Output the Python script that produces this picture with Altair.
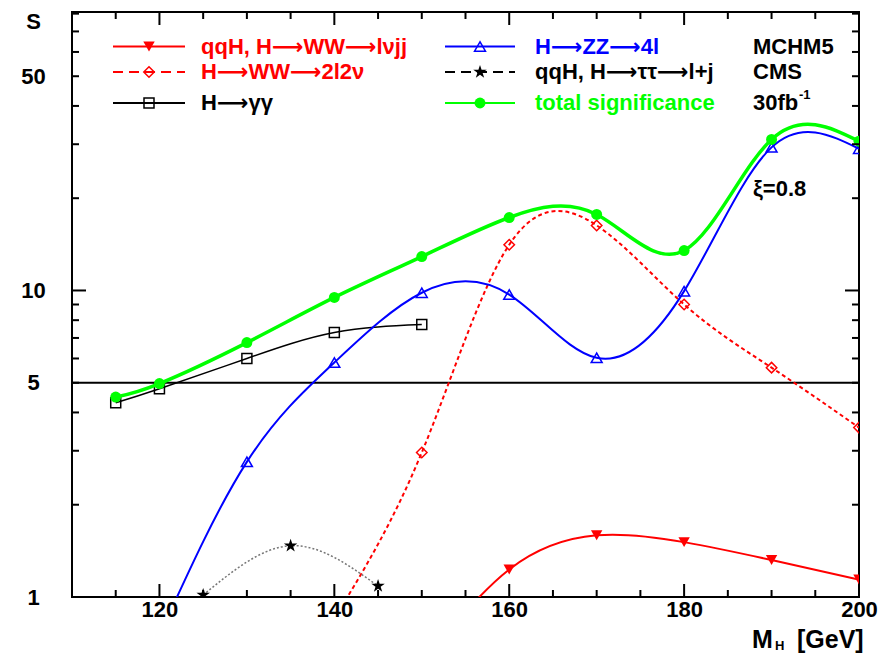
import altair as alt
import pandas as pd

# ---------------- data ----------------
mh_lvjj = [150, 160, 170, 180, 190, 200]
s_lvjj = [0.60, 1.23, 1.59, 1.51, 1.32, 1.14]

mh_2l2v = [140, 150, 160, 170, 180, 190, 200]
s_2l2v = [0.85, 2.96, 14.1, 16.3, 9.0, 5.6, 3.57]

mh_gg = [115, 120, 130, 140, 150]
s_gg = [4.30, 4.78, 6.0, 7.29, 7.74]

mh_zz = [120, 130, 140, 150, 160, 170, 180, 190, 200]
s_zz = [0.75, 2.76, 5.82, 9.83, 9.70, 6.03, 9.95, 29.3, 29.0]

mh_tt = [125, 135, 145]
s_tt = [1.015, 1.47, 1.086]

mh_tot = [115, 120, 130, 140, 150, 160, 170, 180, 190, 200]
s_tot = [4.49, 4.97, 6.76, 9.49, 12.9, 17.3, 17.7, 13.5, 31.1, 30.7]

threshold = [5]

x_labels = [120, 140, 160, 180, 200]
y_labels = [1, 5, 10, 50]
x_ticks_major = [120, 140, 160, 180]
x_ticks_minor = [115, 125, 130, 135, 145, 150, 155, 165, 170, 175, 185, 190, 195]
y_ticks_major = [10]
y_ticks_minor = [2, 3, 4, 5, 6, 7, 8, 9, 20, 30, 40, 50, 60, 70, 80]

ARW = "\u27f6"
legend_labels = ["qqH, H" + ARW + "WW" + ARW + "l\u03bdjj", "H" + ARW + "WW" + ARW + "2l2\u03bd",
                 "H" + ARW + "\u03b3\u03b3", "H" + ARW + "ZZ" + ARW + "4l",
                 "qqH, H" + ARW + "\u03c4\u03c4" + ARW + "l+j", "total significance"]
info_labels = ["MCHM5", "CMS", "30fb"]

# ---------------- layout / style ----------------
FONT = "Liberation Sans, DejaVu Sans"
XMIN, XMAX = 110, 200
YMIN, YMAX = 1, 81
W, H = 787, 585

RED, BLUE, GREEN, BLACK = "#ff0000", "#0000ff", "#00ff00", "#000000"
STAR = ("M0,-1L0.2245,-0.309L0.951,-0.309L0.363,0.118L0.588,0.809L0,0.382"
        "L-0.588,0.809L-0.363,0.118L-0.951,-0.309L-0.2245,-0.309Z")

xs = alt.Scale(domain=[XMIN, XMAX], nice=False, zero=False)
ys = alt.Scale(type="log", domain=[YMIN, YMAX], nice=False)

x_axis = alt.Axis(values=x_labels, title=None, grid=False, domain=False, ticks=False, tickSize=0,
                  labelFont=FONT, labelFontSize=22, labelFontWeight="bold", labelColor=BLACK,
                  labelPadding=12, labelBaseline="middle", labelFlush=False)
y_axis = alt.Axis(values=y_labels, title="S", grid=False, domain=False, ticks=False, tickSize=0,
                  labelFont=FONT, labelFontSize=22, labelFontWeight="bold", labelColor=BLACK,
                  labelPadding=39, labelAlign="center", labelBaseline="middle", labelFlush=False,
                  titleAngle=0, titleX=-39, titleY=9, titleAlign="center", titleBaseline="middle",
                  titleFont=FONT, titleFontSize=22, titleFontWeight="bold", titleColor=BLACK)

X = alt.X("x:Q", scale=xs, axis=x_axis)
Y = alt.Y("y:Q", scale=ys, axis=y_axis)


def series(mh, s, color, width, shape, size, filled, dash=None, interp="natural", lcolor=None):
    df = pd.DataFrame({"x": mh, "y": s})
    kw = dict(color=lcolor or color, strokeWidth=width, interpolate=interp, clip=True)
    if dash:
        kw["strokeDash"] = dash
    line = alt.Chart(df).mark_line(**kw).encode(x=X, y=Y)
    pts = alt.Chart(df).mark_point(shape=shape, size=size, filled=filled, color=color,
                                   strokeWidth=1.5, opacity=1, clip=True).encode(x=X, y=Y)
    return [line, pts]


layers = []

# 5-sigma line
layers.append(alt.Chart(pd.DataFrame({"y": threshold})).mark_rule(color=BLACK, strokeWidth=2)
              .encode(y=Y))

layers += series(mh_lvjj, s_lvjj, RED, 2, "triangle-down", 130, True)
layers += series(mh_2l2v, s_2l2v, RED, 2, "diamond", 110, False, dash=[4, 3])
layers += series(mh_gg, s_gg, BLACK, 1.5, "square", 100, False)
layers += series(mh_zz, s_zz, BLUE, 2, "triangle-up", 120, False)
layers += series(mh_tt, s_tt, BLACK, 1.5, STAR, 200, True, dash=[2, 2], lcolor="#777777")
layers += series(mh_tot, s_tot, GREEN, 3.5, "circle", 120, True)

# ---------------- frame ticks (inward, as in ROOT) ----------------
def px2x(p):
    return XMIN + (p - 72) * (XMAX - XMIN) / W

def fy(px_len):
    return (YMAX / YMIN) ** (px_len / H)

dx_min, dx_maj = 7 * (XMAX - XMIN) / W, 14 * (XMAX - XMIN) / W
tick_rows = []
for v in y_ticks_minor + y_ticks_major:
    d = dx_maj if v in y_ticks_major else dx_min
    tick_rows.append({"x": XMIN, "x2": XMIN + d, "y": v, "y2": v})
    tick_rows.append({"x": XMAX - d, "x2": XMAX, "y": v, "y2": v})
for v in x_ticks_minor + x_ticks_major:
    f = fy(13) if v in x_ticks_major else fy(7)
    tick_rows.append({"x": v, "x2": v, "y": YMIN, "y2": YMIN * f})
    tick_rows.append({"x": v, "x2": v, "y": YMAX / f, "y2": YMAX})
ticks = alt.Chart(pd.DataFrame(tick_rows)).mark_rule(color=BLACK, strokeWidth=2).encode(
    x=X, x2="x2:Q", y=Y, y2="y2:Q")
layers.append(ticks)

# ---------------- legend ----------------
def px2y(p):
    return YMIN * (YMAX / YMIN) ** ((597 - p) / H)

rows_px = [46.5, 72, 103]
col_line = [(113, 185, 149, 201), (445, 515, 480, 535)]
leg_styles = [
    dict(color=RED, shape="triangle-down", size=130, filled=True),
    dict(color=RED, shape="diamond", size=110, filled=False, dash=[10, 6]),
    dict(color=BLACK, shape="square", size=100, filled=False),
    dict(color=BLUE, shape="triangle-up", size=120, filled=False),
    dict(color=BLACK, shape=STAR, size=200, filled=True, dash=[10, 6]),
    dict(color=GREEN, shape="circle", size=120, filled=True),
]
text_colors = [RED, RED, BLACK, BLUE, BLACK, GREEN]

for i, (lab, st) in enumerate(zip(legend_labels, leg_styles)):
    c = i // 3
    r = i % 3
    x1, x2, xm, xt = col_line[c]
    yv = px2y(rows_px[r])
    ldf = pd.DataFrame({"x": [px2x(x1)], "x2": [px2x(x2)], "y": [yv]})
    rkw = dict(color=st["color"], strokeWidth=2)
    if "dash" in st:
        rkw["strokeDash"] = st["dash"]
    layers.append(alt.Chart(ldf).mark_rule(**rkw).encode(x=X, x2="x2:Q", y=Y))
    mdf = pd.DataFrame({"x": [px2x(xm)], "y": [yv]})
    layers.append(alt.Chart(mdf).mark_point(shape=st["shape"], size=st["size"], filled=st["filled"],
                                             color=st["color"], strokeWidth=1.5, opacity=1)
                  .encode(x=X, y=Y))
    tdf = pd.DataFrame({"x": [px2x(xt)], "y": [yv], "t": [lab]})
    layers.append(alt.Chart(tdf).mark_text(align="left", baseline="middle", font=FONT, fontSize=22,
                                            fontWeight="bold", color=text_colors[i])
                  .encode(x=X, y=Y, text="t:N"))

# info column
for r, lab in enumerate(info_labels):
    tdf = pd.DataFrame({"x": [px2x(753)], "y": [px2y(rows_px[r])], "t": [lab]})
    layers.append(alt.Chart(tdf).mark_text(align="left", baseline="middle", font=FONT, fontSize=22,
                                            fontWeight="bold", color=BLACK)
                  .encode(x=X, y=Y, text="t:N"))
sup = pd.DataFrame({"x": [px2x(799)], "y": [px2y(95)], "t": ["-1"]})
layers.append(alt.Chart(sup).mark_text(align="left", baseline="middle", font=FONT, fontSize=13,
                                        fontWeight="bold", color=BLACK).encode(x=X, y=Y, text="t:N"))

# xi annotation
xi = pd.DataFrame({"x": [px2x(753)], "y": [px2y(189)], "t": ["\u03be=0.8"]})
layers.append(alt.Chart(xi).mark_text(align="left", baseline="middle", font=FONT, fontSize=22,
                                       fontWeight="bold", color=BLACK).encode(x=X, y=Y, text="t:N"))

# x-axis title  M_H [GeV]
xt = pd.DataFrame({"x": [px2x(752), px2x(797)], "y": [px2y(648), px2y(648)], "t": ["M", "[GeV]"]})
layers.append(alt.Chart(xt).mark_text(align="left", baseline="alphabetic", font=FONT, fontSize=25,
                                       fontWeight="bold", color=BLACK).encode(x=X, y=Y, text="t:N"))
xs_sub = pd.DataFrame({"x": [px2x(775)], "y": [px2y(650)], "t": ["H"]})
layers.append(alt.Chart(xs_sub).mark_text(align="left", baseline="alphabetic", font=FONT, fontSize=13,
                                           fontWeight="bold", color=BLACK).encode(x=X, y=Y, text="t:N"))

chart = alt.layer(*layers).properties(
    width=W, height=H,
    autosize=alt.AutoSizeParams(type="none"),
    padding={"left": 72, "top": 12, "right": 23, "bottom": 57},
).configure_view(stroke=BLACK, strokeWidth=2)

chart.save("out.html", embed_options={"renderer": "svg", "actions": False})
